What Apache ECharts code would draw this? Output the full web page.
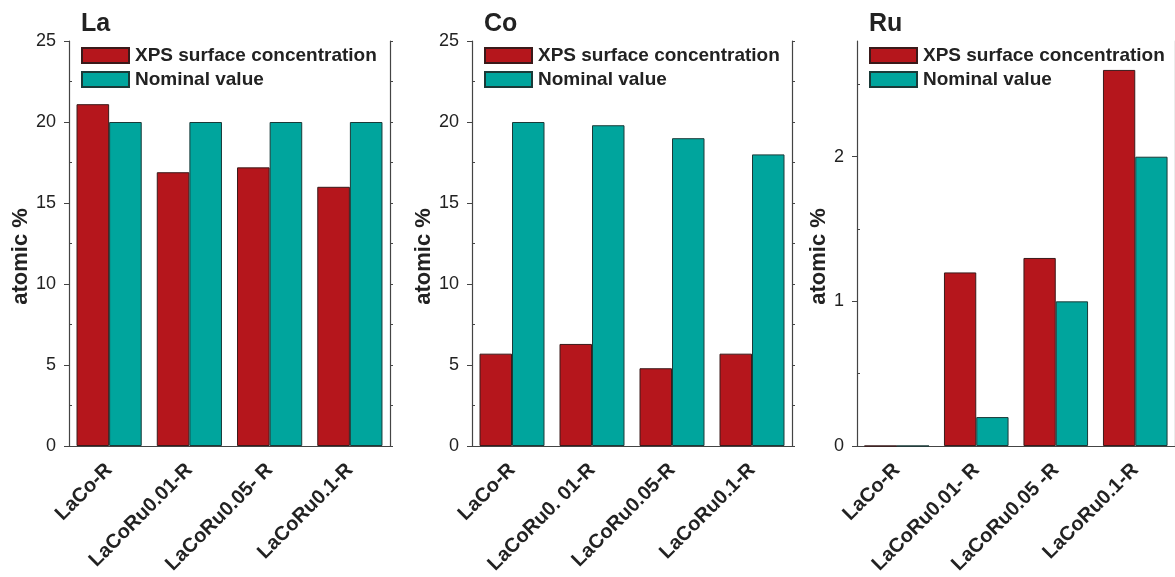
<!DOCTYPE html>
<html>
<head>
<meta charset="utf-8">
<script src="https://cdn.jsdelivr.net/npm/echarts@6/dist/echarts.min.js"></script>
<style>
html,body{margin:0;padding:0;background:#fff;}
#chart{width:1175px;height:577px;}
</style>
</head>
<body>
<div id="chart"></div>
<script>
// ---- data ----
const panelTitles = ['La', 'Co', 'Ru'];
const seriesNames = ['XPS surface concentration', 'Nominal value'];
const categoriesLa = ['LaCo-R', 'LaCoRu0.01-R', 'LaCoRu0.05- R', 'LaCoRu0.1-R'];
const categoriesCo = ['LaCo-R', 'LaCoRu0. 01-R', 'LaCoRu0.05-R', 'LaCoRu0.1-R'];
const categoriesRu = ['LaCo-R', 'LaCoRu0.01- R', 'LaCoRu0.05 -R', 'LaCoRu0.1-R'];
const xpsLa = [21.1, 16.9, 17.2, 16.0];
const nominalLa = [20, 20, 20, 20];
const xpsCo = [5.7, 6.3, 4.8, 5.7];
const nominalCo = [20, 19.8, 19.0, 18.0];
const xpsRu = [0, 1.2, 1.3, 2.6];
const nominalRu = [0, 0.2, 1.0, 2.0];
const yTicksLa = [0, 5, 10, 15, 20, 25];
const yTicksCo = [0, 5, 10, 15, 20, 25];
const yTicksRu = [0, 1, 2];
const yMinorLa = [2.5, 7.5, 12.5, 17.5, 22.5];
const yMinorCo = [2.5, 7.5, 12.5, 17.5, 22.5];
const yMinorRu = [0.5, 1.5, 2.5];
const yMaxLa = 25, yMaxCo = 25, yMaxRu = 2.8;

// ---- style ----
const RED = '#B5161C';
const TEAL = '#00A59D';
const AXIS = '#444';
const FONT = '"Liberation Sans", Arial, Helvetica, sans-serif';

const panels = [
  { title: panelTitles[0], cats: categoriesLa, xps: xpsLa, nom: nominalLa, ticks: yTicksLa, minor: yMinorLa, max: yMaxLa, left: 69, width: 321, nameGap: 36 },
  { title: panelTitles[1], cats: categoriesCo, xps: xpsCo, nom: nominalCo, ticks: yTicksCo, minor: yMinorCo, max: yMaxCo, left: 472, width: 320, nameGap: 36 },
  { title: panelTitles[2], cats: categoriesRu, xps: xpsRu, nom: nominalRu, ticks: yTicksRu, minor: yMinorRu, max: yMaxRu, left: 857, width: 320, nameGap: 25 }
];

const option = {
  animation: false,
  backgroundColor: '#fff',
  textStyle: { fontFamily: FONT },
  title: [], legend: [], grid: [], xAxis: [], yAxis: [], series: []
};

panels.forEach((p, i) => {
  option.title.push({
    text: p.title, left: p.left + 12, top: 12, padding: 0,
    textStyle: { fontFamily: FONT, fontSize: 25, fontWeight: 'bold', color: '#222' }
  });
  option.legend.push({
    data: seriesNames, orient: 'vertical', left: p.left + 12, top: 46, padding: 0,
    itemWidth: 47, itemHeight: 15, itemGap: 5, icon: 'rect', selectedMode: false,
    textStyle: { fontFamily: FONT, fontSize: 19, fontWeight: 'bold', color: '#222', padding: [0, 0, 0, 1] }
  });
  option.grid.push({ left: p.left, top: 41, width: p.width, height: 405, containLabel: false });
  const allTicks = p.ticks.concat(p.minor).sort((a, b) => a - b);
  // bottom category axis
  option.xAxis.push({
    type: 'category', gridIndex: i, data: p.cats, position: 'bottom',
    axisLine: { lineStyle: { color: AXIS, width: 1.2 } },
    axisTick: { alignWithLabel: true, length: 6, lineStyle: { color: AXIS } },
    axisLabel: { rotate: 45, interval: 0, margin: 21, fontFamily: FONT, fontSize: 20, fontWeight: 'bold', color: '#222' }
  });
  // top mirror axis
  option.xAxis.push({
    type: 'category', gridIndex: i, data: p.cats, position: 'top',
    axisLine: { lineStyle: { color: AXIS, width: 1.2 } },
    axisTick: { alignWithLabel: true, inside: true, length: 3, lineStyle: { color: AXIS } },
    axisLabel: { show: false }
  });
  // left value axis with labels
  option.yAxis.push({
    type: 'value', gridIndex: i, min: 0, max: p.max, position: 'left',
    name: 'atomic %', nameLocation: 'middle', nameGap: p.nameGap, nameRotate: 90,
    nameTextStyle: { fontFamily: FONT, fontSize: 22, fontWeight: 'bold', color: '#222', padding: [0, 0, 0, -26] },
    axisLine: { show: true, lineStyle: { color: AXIS, width: 1.2 } },
    axisTick: { show: true, length: 5, customValues: p.ticks, lineStyle: { color: AXIS } },
    axisLabel: { customValues: p.ticks, margin: 13, fontFamily: FONT, fontSize: 18, color: '#222' },
    splitLine: { show: false }
  });
  // left minor ticks (inside)
  option.yAxis.push({
    type: 'value', gridIndex: i, min: 0, max: p.max, position: 'left',
    axisLine: { show: false },
    axisTick: { show: true, inside: true, length: 3, customValues: p.minor, lineStyle: { color: AXIS } },
    axisLabel: { show: false }, splitLine: { show: false }
  });
  // right mirror axis
  option.yAxis.push({
    type: 'value', gridIndex: i, min: 0, max: p.max, position: 'right',
    axisLine: { show: true, lineStyle: { color: AXIS, width: 1.2 } },
    axisTick: { show: true, length: 3, customValues: allTicks, lineStyle: { color: AXIS } },
    axisLabel: { show: false }, splitLine: { show: false }
  });
  option.series.push({
    name: seriesNames[0], type: 'bar', xAxisIndex: i * 2, yAxisIndex: i * 3,
    data: p.xps, barGap: '0%', barCategoryGap: '18.75%',
    itemStyle: { color: RED, borderColor: '#3a1a1a', borderWidth: 1 }
  });
  option.series.push({
    name: seriesNames[1], type: 'bar', xAxisIndex: i * 2, yAxisIndex: i * 3,
    data: p.nom, barGap: '0%', barCategoryGap: '18.75%',
    itemStyle: { color: TEAL, borderColor: '#1a3a38', borderWidth: 1 }
  });
});

const chart = echarts.init(document.getElementById('chart'), null, { renderer: 'canvas' });
chart.setOption(option);
</script>
</body>
</html>
